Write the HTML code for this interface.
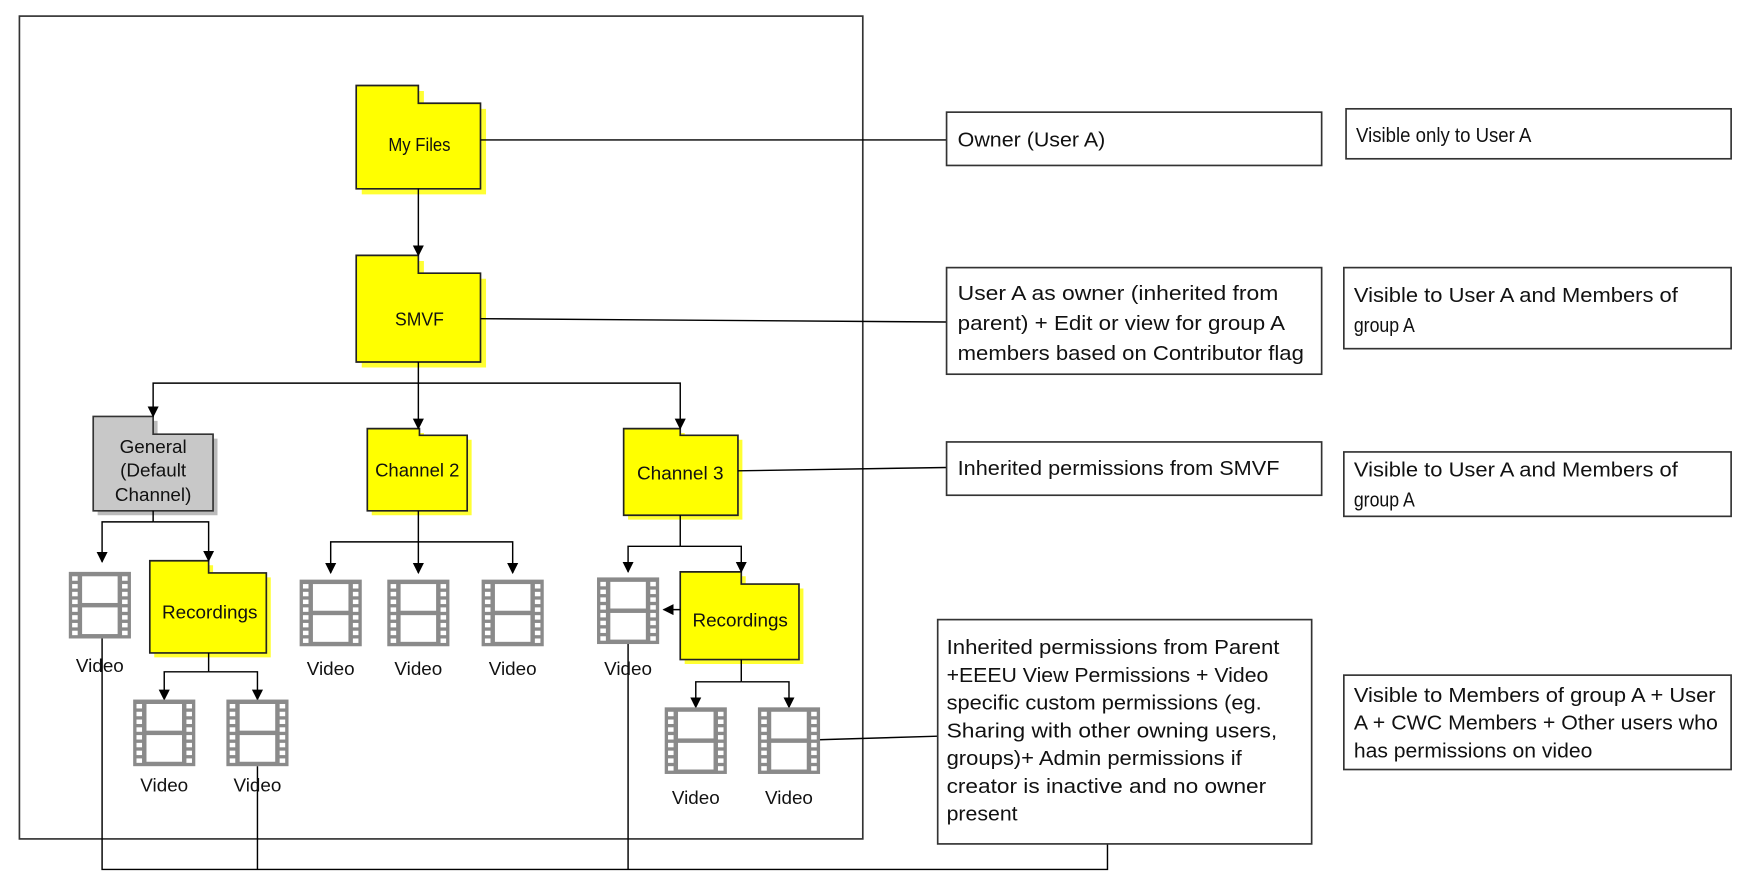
<!DOCTYPE html>
<html><head><meta charset="utf-8"><style>
html,body{margin:0;padding:0;background:#fff;}
svg{display:block;}
text{font-family:"Liberation Sans Narrow","Liberation Sans",sans-serif;fill:#111;}
</style></head><body>
<svg width="1740" height="885" viewBox="0 0 1568 797" preserveAspectRatio="none" xmlns="http://www.w3.org/2000/svg">
<defs>
<marker id="ar" markerWidth="10" markerHeight="12" refX="9" refY="6" orient="auto" markerUnits="userSpaceOnUse">
<path d="M0,1 L10,6 L0,11 Z" fill="#000"/></marker>
<g id="vid">
<rect x="0" y="0" width="56" height="60" fill="#8a8a8a"/>
<rect x="12" y="4" width="32" height="24" fill="#fff"/>
<rect x="12" y="32" width="32" height="24" fill="#fff"/>
<g fill="#fff">
<rect x="3" y="4" width="5" height="4"/><rect x="3" y="11" width="5" height="4"/><rect x="3" y="18" width="5" height="4"/><rect x="3" y="25" width="5" height="4"/><rect x="3" y="32" width="5" height="4"/><rect x="3" y="39" width="5" height="4"/><rect x="3" y="46" width="5" height="4"/><rect x="3" y="53" width="5" height="4"/>
<rect x="48" y="4" width="5" height="4"/><rect x="48" y="11" width="5" height="4"/><rect x="48" y="18" width="5" height="4"/><rect x="48" y="25" width="5" height="4"/><rect x="48" y="32" width="5" height="4"/><rect x="48" y="39" width="5" height="4"/><rect x="48" y="46" width="5" height="4"/><rect x="48" y="53" width="5" height="4"/>
</g>
</g>
</defs>

<rect x="17.5" y="14.5" width="760" height="741" fill="none" stroke="#333" stroke-width="1.5"/>

<g stroke-width="1.5">
<path d="M326,82 h56 v16 h56 v77 h-112 Z" fill="#ffff33"/>
<path d="M321,77 h56 v16 h56 v77 h-112 Z" fill="#ffff00" stroke="#222"/>
<path d="M326,235 h56 v16 h56 v80 h-112 Z" fill="#ffff33"/>
<path d="M321,230 h56 v16 h56 v80 h-112 Z" fill="#ffff00" stroke="#222"/>
<path d="M88,379 h54 v16 h54 v69 h-108 Z" fill="#bbb"/>
<path d="M84,375 h54 v16 h54 v69 h-108 Z" fill="#c8c8c8" stroke="#333"/>
<path d="M335,390 h47 v6 h43 v68 h-90 Z" fill="#ffff33"/>
<path d="M331,386 h47 v6 h43 v68 h-90 Z" fill="#ffff00" stroke="#222"/>
<path d="M566,390 h51 v6 h52 v72 h-103 Z" fill="#ffff33"/>
<path d="M562,386 h51 v6 h52 v72 h-103 Z" fill="#ffff00" stroke="#222"/>
<path d="M139,509 h53 v11 h52 v72 h-105 Z" fill="#ffff33"/>
<path d="M135,505 h53 v11 h52 v72 h-105 Z" fill="#ffff00" stroke="#222"/>
<path d="M617,519 h55 v11 h52 v68 h-107 Z" fill="#ffff33"/>
<path d="M613,515 h55 v11 h52 v68 h-107 Z" fill="#ffff00" stroke="#222"/>
</g>

<g font-size="17" text-anchor="middle" lengthAdjust="spacingAndGlyphs">
<text x="378" y="136" textLength="56" lengthAdjust="spacingAndGlyphs">My Files</text>
<text x="378" y="293" textLength="44" lengthAdjust="spacingAndGlyphs">SMVF</text>
<text x="138" y="408">General</text>
<text x="138" y="429">(Default</text>
<text x="138" y="451">Channel)</text>
<text x="376" y="429" textLength="76" lengthAdjust="spacingAndGlyphs">Channel 2</text>
<text x="613" y="432" textLength="78" lengthAdjust="spacingAndGlyphs">Channel 3</text>
<text x="189" y="557" textLength="86" lengthAdjust="spacingAndGlyphs">Recordings</text>
<text x="667" y="564" textLength="86" lengthAdjust="spacingAndGlyphs">Recordings</text>
</g>

<g stroke="#000" stroke-width="1.3" fill="none">
<line x1="377" y1="170" x2="377" y2="230" marker-end="url(#ar)"/>
<line x1="377" y1="326" x2="377" y2="386" marker-end="url(#ar)"/>
<polyline points="377,345 138,345 138,375" marker-end="url(#ar)"/>
<polyline points="377,345 613,345 613,386" marker-end="url(#ar)"/>
<line x1="138" y1="460" x2="138" y2="470"/>
<polyline points="138,470 92,470 92,506" marker-end="url(#ar)"/>
<polyline points="138,470 188,470 188,505" marker-end="url(#ar)"/>
<line x1="188" y1="588" x2="188" y2="605"/>
<polyline points="188,605 148,605 148,630" marker-end="url(#ar)"/>
<polyline points="188,605 232,605 232,630" marker-end="url(#ar)"/>
<line x1="377" y1="460" x2="377" y2="516" marker-end="url(#ar)"/>
<polyline points="377,488 298,488 298,516" marker-end="url(#ar)"/>
<polyline points="377,488 462,488 462,516" marker-end="url(#ar)"/>
<line x1="613" y1="464" x2="613" y2="492"/>
<polyline points="613,492 566,492 566,515" marker-end="url(#ar)"/>
<polyline points="613,492 668,492 668,515" marker-end="url(#ar)"/>
<line x1="613" y1="549" x2="598" y2="549" marker-end="url(#ar)"/>
<line x1="668" y1="594" x2="668" y2="614"/>
<polyline points="668,614 627,614 627,637" marker-end="url(#ar)"/>
<polyline points="668,614 711,614 711,637" marker-end="url(#ar)"/>
<line x1="433" y1="126" x2="853" y2="126"/>
<line x1="433" y1="287" x2="853" y2="290"/>
<line x1="665" y1="424" x2="853" y2="421"/>
<line x1="711" y1="667" x2="845" y2="663"/>
<polyline points="92,575 92,783 998,783 998,760"/>
<line x1="232" y1="690" x2="232" y2="783"/>
<line x1="566" y1="580" x2="566" y2="783"/>
</g>

<use href="#vid" x="62" y="515"/>
<use href="#vid" x="120" y="630"/>
<use href="#vid" x="204" y="630"/>
<use href="#vid" x="270" y="522"/>
<use href="#vid" x="349" y="522"/>
<use href="#vid" x="434" y="522"/>
<use href="#vid" x="538" y="520"/>
<use href="#vid" x="599" y="637"/>
<use href="#vid" x="683" y="637"/>
<g font-size="17" text-anchor="middle">
<text x="90" y="605">Video</text>
<text x="148" y="713">Video</text>
<text x="232" y="713">Video</text>
<text x="298" y="608">Video</text>
<text x="377" y="608">Video</text>
<text x="462" y="608">Video</text>
<text x="566" y="608">Video</text>
<text x="627" y="724">Video</text>
<text x="711" y="724">Video</text>
</g>

<g fill="#fff" stroke="#333" stroke-width="1.5">
<rect x="853" y="101" width="338" height="48"/>
<rect x="853" y="241" width="338" height="96"/>
<rect x="853" y="398" width="338" height="48"/>
<rect x="845" y="558" width="337" height="202"/>
<rect x="1213" y="98" width="347" height="45"/>
<rect x="1211" y="241" width="349" height="73"/>
<rect x="1211" y="407" width="349" height="58"/>
<rect x="1211" y="608" width="349" height="85"/>
</g>
<g font-size="18">
<text x="863" y="132" textLength="133" lengthAdjust="spacingAndGlyphs">Owner (User A)</text>
<text x="863" y="270" textLength="289" lengthAdjust="spacingAndGlyphs">User A as owner (inherited from</text>
<text x="863" y="297" textLength="295" lengthAdjust="spacingAndGlyphs">parent) + Edit or view for group A</text>
<text x="863" y="324" textLength="312" lengthAdjust="spacingAndGlyphs">members based on Contributor flag</text>
<text x="863" y="428" textLength="290" lengthAdjust="spacingAndGlyphs">Inherited permissions from SMVF</text>
<text x="853" y="589" textLength="300" lengthAdjust="spacingAndGlyphs">Inherited permissions from Parent</text>
<text x="853" y="614" textLength="290" lengthAdjust="spacingAndGlyphs">+EEEU View Permissions +  Video</text>
<text x="853" y="639" textLength="284" lengthAdjust="spacingAndGlyphs">specific custom permissions (eg.</text>
<text x="853" y="664" textLength="298" lengthAdjust="spacingAndGlyphs">Sharing with other owning users,</text>
<text x="853" y="689" textLength="266" lengthAdjust="spacingAndGlyphs">groups)+ Admin permissions if</text>
<text x="853" y="714" textLength="288" lengthAdjust="spacingAndGlyphs">creator is inactive and no owner</text>
<text x="853" y="739" textLength="64" lengthAdjust="spacingAndGlyphs">present</text>
<text x="1222" y="128" textLength="158" lengthAdjust="spacingAndGlyphs">Visible only to User A</text>
<text x="1220" y="272" textLength="292" lengthAdjust="spacingAndGlyphs">Visible to User A and Members of</text>
<text x="1220" y="299" textLength="55" lengthAdjust="spacingAndGlyphs">group A</text>
<text x="1220" y="429" textLength="292" lengthAdjust="spacingAndGlyphs">Visible to User A and Members of</text>
<text x="1220" y="456" textLength="55" lengthAdjust="spacingAndGlyphs">group A</text>
<text x="1220" y="632" textLength="326" lengthAdjust="spacingAndGlyphs">Visible to Members of group A + User</text>
<text x="1220" y="657" textLength="328" lengthAdjust="spacingAndGlyphs">A + CWC Members + Other users who</text>
<text x="1220" y="682" textLength="215" lengthAdjust="spacingAndGlyphs">has permissions on video</text>
</g>
</svg>
</body></html>
